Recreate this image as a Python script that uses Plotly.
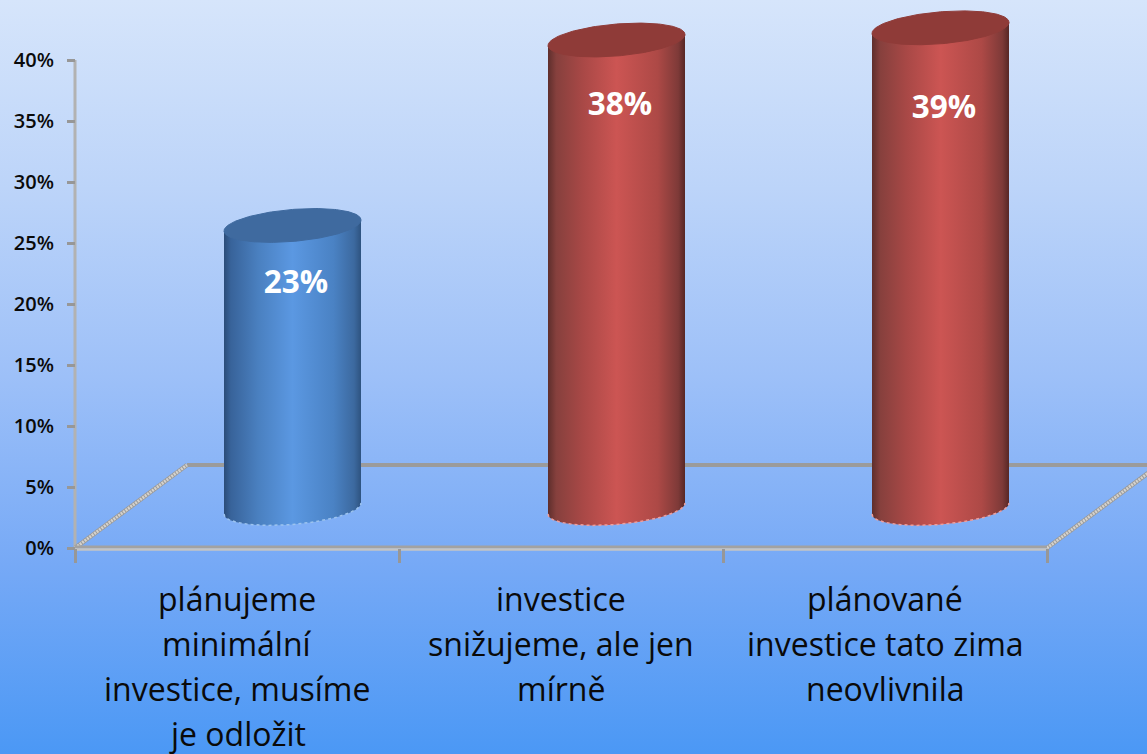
import numpy as np
import plotly.graph_objects as go

categories = [
    ["plánujeme", "minimální", "investice, musíme", "je odložit"],
    ["investice", "snižujeme, ale jen", "mírně"],
    ["plánované", "investice tato zima", "neovlivnila"],
]
values = [23.2, 38.4, 39.4]
value_labels = ["23%", "38%", "39%"]
label_heights = [21.55, 36.1, 35.9]
y_ticks = [0, 5, 10, 15, 20, 25, 30, 35, 40]
y_ticktext = ["0%", "5%", "10%", "15%", "20%", "25%", "30%", "35%", "40%"]
x_edges = [-0.5, 0.5, 1.5, 2.5]
colors_body = [
    [[0, "#2b4c78"], [0.05, "#38639a"], [0.25, "#4a80c0"], [0.5, "#5b98e2"], [0.8, "#4a82c4"], [0.95, "#3c699f"], [1, "#2e5380"]],
    [[0, "#5e2e2c"], [0.06, "#86403d"], [0.25, "#a84846"], [0.5, "#cc5553"], [0.8, "#ad4946"], [0.95, "#7e3a38"], [1, "#572725"]],
    [[0, "#5e2e2c"], [0.06, "#86403d"], [0.25, "#a84846"], [0.5, "#cc5553"], [0.8, "#ad4946"], [0.95, "#7e3a38"], [1, "#572725"]],
]
colors_top = ["#3f6a9f", "#8f3b38", "#8f3b38"]
colors_edge = ["#9cc3ee", "#ee9f9d", "#ee9f9d"]

W, H = 1147, 754
PX_X, PX_Y = 324.0, 12.2          # pixels per category / per percent
X0_PX, Y0_PX = 237.0, 548.0       # pixel of category 0 / of 0 %
DX, DY = 112 / PX_X, 83 / PX_Y    # depth of the floor
CDX, CDY = 55.5 / PX_X, 39.5 / PX_Y
A, B, TILT = 68.5 / PX_X, 16.0 / PX_Y, 5.5 / PX_Y

xr = [-X0_PX / PX_X, (W - X0_PX) / PX_X]
yr = [(Y0_PX - H) / PX_Y, Y0_PX / PX_Y]

fig = go.Figure()


def line(xs, ys, color, width, dash=None):
    fig.add_trace(go.Scatter(x=xs, y=ys, mode="lines", line=dict(color=color, width=width, dash=dash),
                             hoverinfo="skip", showlegend=False, cliponaxis=True))


# background
fig.add_trace(go.Scatter(
    x=[xr[0], xr[1], xr[1], xr[0], xr[0]], y=[yr[0], yr[0], yr[1], yr[1], yr[0]],
    mode="none", fill="toself", hoverinfo="skip", showlegend=False,
    fillgradient=dict(type="vertical", start=yr[0], stop=yr[1],
                      colorscale=[[0, "#4b98f5"], [0.25, "#76a9f6"], [0.5, "#9dc0f8"], [0.75, "#bcd4f9"], [1, "#d6e5fb"]]),
))

# floor and walls
e0, e3 = x_edges[0], x_edges[3]
line([e0, e0], [0, 40], "#b2b2b2", 3)
line([e0 + DX, e3 + DX], [DY, DY], "#9b9b9b", 4)
line([e0, e0 + DX], [0, DY], "#9a9a9a", 4.5)
line([e0, e0 + DX], [0, DY], "#d5d2cc", 3, "2px,1px")
line([e3, e3 + DX], [0, DY], "#9a9a9a", 4.5)
line([e3, e3 + DX], [0, DY], "#d5d2cc", 3, "2px,1px")
line([e0, e3], [0.08, 0.08], "#a2a2a2", 3)
line([e0, e3], [-0.12, -0.12], "#c4c4c4", 2.5)

# cylinders
t = np.linspace(0, 2 * np.pi, 181)
low = np.linspace(np.pi, 0, 91)
for i, v in enumerate(values):
    cx = i + CDX
    base = CDY
    top = base + v
    bx = cx + A * np.cos(low)
    by = base - B * np.sin(low) + TILT * np.cos(low)
    xs = np.concatenate([[cx - A], bx, [cx + A, cx - A]])
    ys = np.concatenate([[top - TILT], by, [top + TILT, top - TILT]])
    fig.add_trace(go.Scatter(
        x=xs, y=ys, mode="none", fill="toself", hoverinfo="skip", showlegend=False,
        fillgradient=dict(type="horizontal", start=cx - A, stop=cx + A, colorscale=colors_body[i]),
    ))
    line(bx, by, colors_edge[i], 1.5, "3px,3px")
    tx = cx + A * np.cos(t)
    ty = top + B * np.sin(t) + TILT * np.cos(t)
    fig.add_trace(go.Scatter(x=tx, y=ty, mode="lines", fill="toself", fillcolor=colors_top[i],
                             line=dict(color=colors_top[i], width=1), hoverinfo="skip", showlegend=False))

# value labels
fig.add_trace(go.Scatter(
    x=[i + CDX + 0.011 for i in range(3)], y=label_heights, mode="text", text=value_labels,
    textfont=dict(family="Open Sans, Noto Sans, sans-serif", size=31.5, color="white", weight="bold"),
    textposition="middle center", hoverinfo="skip", showlegend=False,
))

# category labels, one annotation per line to keep the wide line spacing
annotations = []
for i, lines in enumerate(categories):
    for j, text in enumerate(lines):
        annotations.append(dict(
            x=i, y=0, xref="x", yref="y", text=text, showarrow=False, yshift=-(50 + 45.3 * j),
            xanchor="center", yanchor="middle",
            font=dict(family="Open Sans, Noto Sans, sans-serif", size=32, color="#0a0a0a", weight=500),
        ))

fig.update_layout(
    width=W, height=H, autosize=False,
    margin=dict(l=0, r=0, t=0, b=0, pad=0),
    paper_bgcolor="#9dc0f8", plot_bgcolor="rgba(0,0,0,0)",
    showlegend=False, hovermode=False, annotations=annotations,
    xaxis=dict(range=xr, domain=[0, 1], anchor="free", position=(H - Y0_PX) / H,
               tickmode="array", tickvals=x_edges, showticklabels=False, ticks="outside",
               ticklen=14, tickwidth=3, tickcolor="#979797",
               showgrid=False, zeroline=False, showline=False, fixedrange=True),
    yaxis=dict(range=yr, domain=[0, 1], anchor="free", position=(X0_PX - 0.5 * PX_X - 0) / W,
               tickmode="array", tickvals=y_ticks, ticktext=y_ticktext, ticks="outside",
               ticklen=8, tickwidth=3, tickcolor="#979797", ticklabelstandoff=9,
               tickfont=dict(family="Open Sans, Noto Sans, sans-serif", size=20, color="#0a0a0a", weight=600),
               showgrid=False, zeroline=False, showline=False, fixedrange=True),
)

fig.write_html("out.html", config=dict(displayModeBar=False),
               post_script="document.body.style.margin='0';document.body.style.overflow='hidden';")
